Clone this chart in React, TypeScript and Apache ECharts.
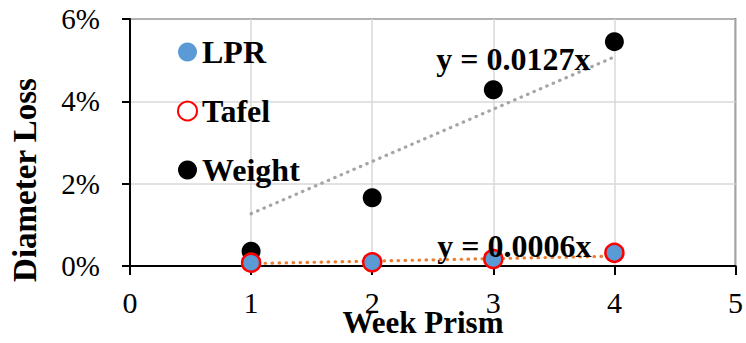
import React, { useEffect, useRef } from 'react';
import * as echarts from 'echarts';

const weeks = [1, 2, 3, 4];
const lprValues = [0.0009, 0.001, 0.0018, 0.0031];
const tafelValues = [0.0008, 0.0009, 0.0017, 0.0032];
const weightValues = [0.0036, 0.0166, 0.0428, 0.0545];
const trendWeeks = [1, 4];
const weightTrend = [0.0127, 0.0508];
const tafelTrend = [0.0006, 0.0024];
const weightEquation = 'y = 0.0127x';
const tafelEquation = 'y = 0.0006x';
const xTitle = 'Week Prism';
const yTitle = 'Diameter Loss';

const FONT = 'Liberation Serif, Times New Roman, Times, serif';

export default function App() {
  const ref = useRef<HTMLDivElement>(null);
  useEffect(() => {
    const chart = echarts.init(ref.current!, null, { renderer: 'svg' });
    const pairs = (xs: number[], ys: number[]) => xs.map((x, i) => [x, ys[i]]);
    chart.setOption({
      animation: false,
      textStyle: { fontFamily: FONT },
      grid: {
        left: 130,
        right: 10,
        top: 19,
        bottom: 77,
        show: true,
        borderColor: '#000',
        borderWidth: 1.5,
        backgroundColor: 'transparent',
      },
      legend: {
        orient: 'vertical',
        left: 172,
        top: 31,
        itemWidth: 19,
        itemHeight: 19,
        itemGap: 27,
        data: ['LPR', 'Tafel', 'Weight'],
        textStyle: { fontFamily: FONT, fontSize: 32, fontWeight: 'bold', color: '#000' },
      },
      xAxis: {
        type: 'value',
        min: 0,
        max: 5,
        interval: 1,
        axisLine: { show: true, lineStyle: { color: '#000', width: 2 } },
        axisTick: { show: true, length: 9, lineStyle: { color: '#000', width: 2 } },
        axisLabel: { fontFamily: FONT, fontSize: 30, color: '#000', margin: 21 },
        splitLine: { show: true, lineStyle: { color: '#D9D9D9', width: 1.5 } },
      },
      yAxis: {
        type: 'value',
        min: 0,
        max: 0.06,
        interval: 0.02,
        axisLine: { show: true, lineStyle: { color: '#000', width: 2 } },
        axisTick: { show: true, length: 8, lineStyle: { color: '#000', width: 2 } },
        axisLabel: {
          fontFamily: FONT,
          fontSize: 29,
          color: '#000',
          margin: 30,
          formatter: (v: number) => `${Math.round(v * 100)}%`,
        },
        splitLine: { show: true, lineStyle: { color: '#D9D9D9', width: 1.5 } },
      },
      series: [
        {
          name: 'Weight trend',
          type: 'line',
          data: pairs(trendWeeks, weightTrend),
          symbol: 'none',
          lineStyle: { color: '#A5A5A5', width: 3.2, type: [0.5, 6.5], cap: 'round' },
          z: 1,
        },
        {
          name: 'Tafel trend',
          type: 'line',
          data: pairs(trendWeeks, tafelTrend),
          symbol: 'none',
          lineStyle: { color: '#ED7D31', width: 3.2, type: [0.5, 6.5], cap: 'round' },
          z: 1,
        },
        {
          name: 'Weight',
          type: 'scatter',
          data: pairs(weeks, weightValues),
          symbol: 'circle',
          symbolSize: 19,
          itemStyle: { color: '#000', opacity: 1 },
          z: 2,
        },
        {
          name: 'LPR',
          type: 'scatter',
          data: pairs(weeks, lprValues),
          symbol: 'circle',
          symbolSize: 18,
          itemStyle: { color: '#5B9BD5', opacity: 1 },
          z: 3,
        },
        {
          name: 'Tafel',
          type: 'scatter',
          data: pairs(weeks, tafelValues),
          symbol: 'circle',
          symbolSize: 18,
          itemStyle: { color: 'rgba(255,255,255,0)', borderColor: '#FF0000', borderWidth: 2.5, opacity: 1 },
          z: 4,
        },
      ],
    });
    const pw = chart.convertToPixel({ gridIndex: 0 }, [trendWeeks[1], weightTrend[1]]) as number[];
    const pt = chart.convertToPixel({ gridIndex: 0 }, [trendWeeks[1], tafelTrend[1]]) as number[];
    const eqStyle = { fontFamily: FONT, fontSize: 32, fontWeight: 'bold', fill: '#000', align: 'right', verticalAlign: 'middle' };
    chart.setOption({
      graphic: [
        { type: 'text', x: pw[0] - 24, y: pw[1] + 2, z: 100, style: { ...eqStyle, text: weightEquation } },
        { type: 'text', x: pt[0] - 23, y: pt[1] - 10, z: 100, style: { ...eqStyle, text: tafelEquation } },
        {
          type: 'text',
          x: 423,
          y: 322,
          style: { fontFamily: FONT, fontSize: 31, fontWeight: 'bold', fill: '#000', text: xTitle, align: 'center', verticalAlign: 'middle' },
        },
        {
          type: 'text',
          x: 25,
          y: 180,
          rotation: Math.PI / 2,
          style: { fontFamily: FONT, fontSize: 33, fontWeight: 'bold', fill: '#000', text: yTitle, align: 'center', verticalAlign: 'middle' },
        },
      ],
    });
    return () => chart.dispose();
  }, []);
  return <div ref={ref} style={{ position: 'absolute', left: 0, top: 0, width: 746, height: 343 }} />;
}
